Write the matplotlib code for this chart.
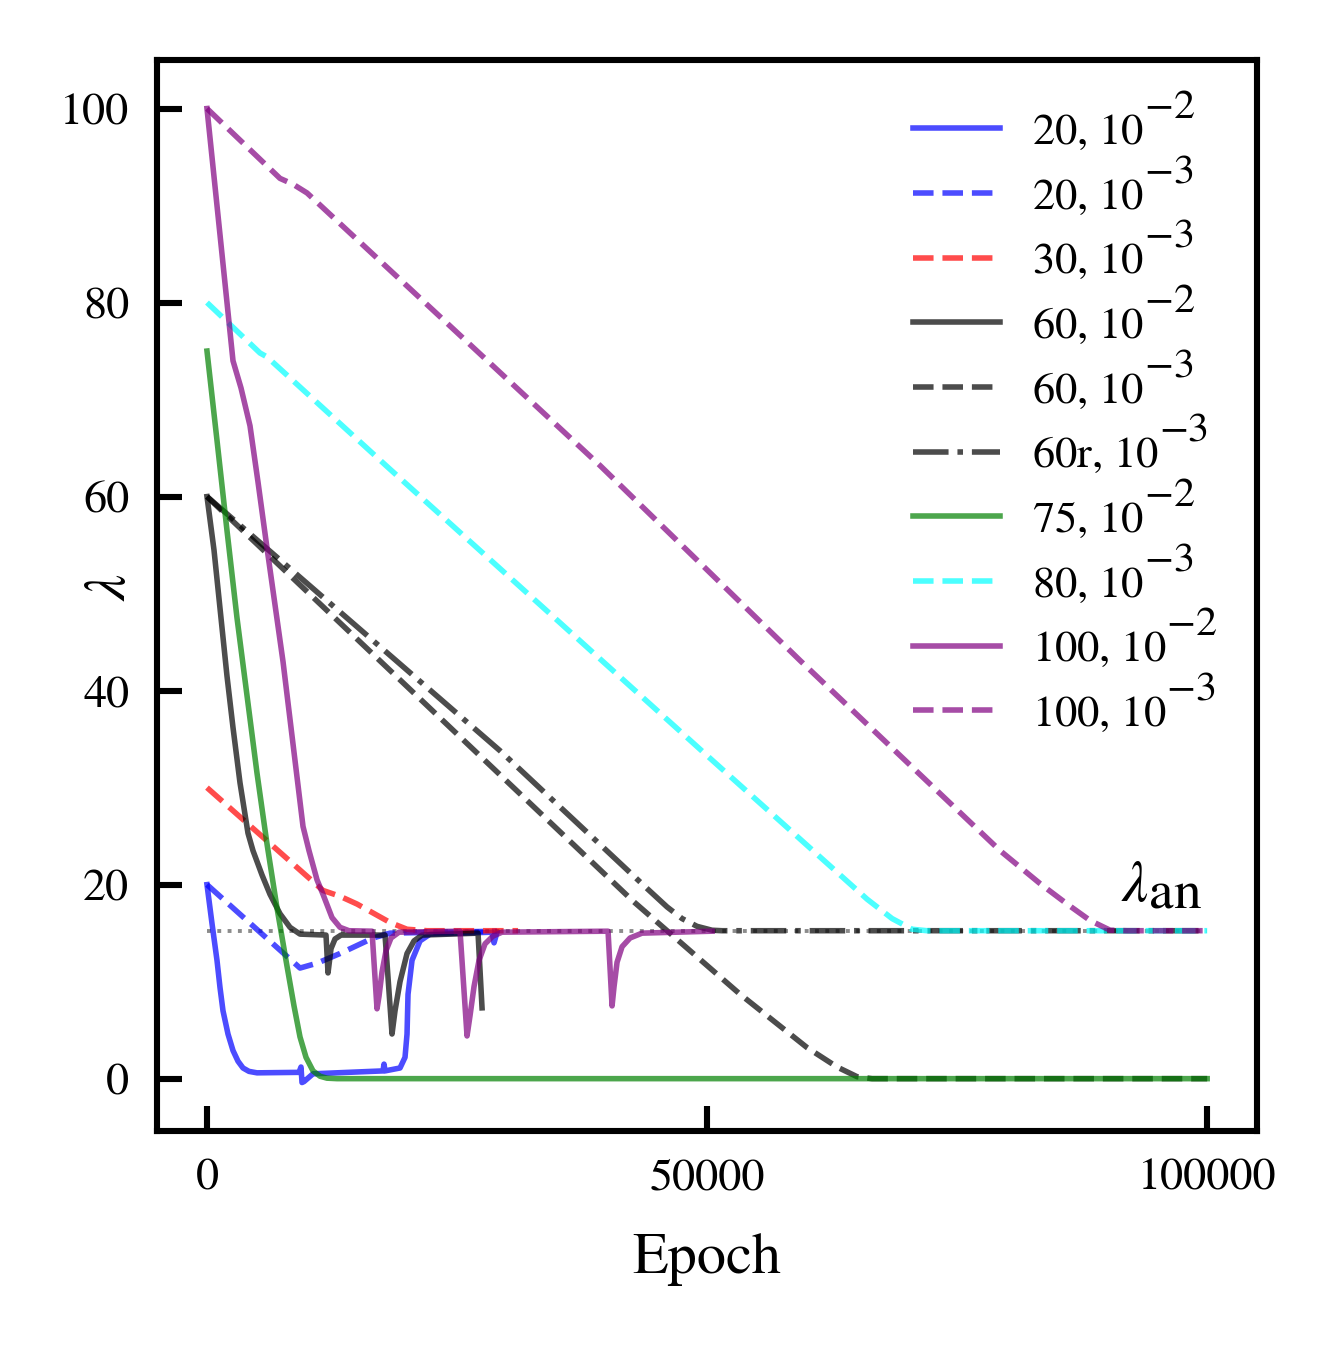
import matplotlib
matplotlib.use("Agg")
import matplotlib.pyplot as plt
import matplotlib._mathtext as mathtext_internals

plt.rcParams['font.family'] = 'serif'
plt.rcParams['font.serif'] = ['STIXGeneral', 'Liberation Serif', 'DejaVu Serif']
plt.rcParams['mathtext.fontset'] = 'stix'
# the original has nearly full-size, high superscripts (small-size LaTeX look)
mathtext_internals.SHRINK_FACTOR = 0.95
mathtext_internals.STIXFontConstants.sup1 = 1.3

# (epoch, lambda)
ep_20_2 = [0, 500, 1000, 1300, 1600, 2100, 2600, 3100, 3600, 4200, 5000, 9200, 9400, 9500, 9700,
           10600, 17600, 17700, 17800, 19300, 19800, 20000, 20100, 20500, 21300, 22300,
           28500, 28700, 29000]
lam_20_2 = [20, 16, 12.2, 9.4, 7, 4.6, 2.9, 1.8, 1.1, 0.75, 0.6, 0.65, 1.2, -0.4, -0.3,
            0.5, 0.8, 1.5, 0.8, 1.1, 2.2, 4.6, 8.7, 12.2, 14.2, 14.9,
            15.1, 14.0, 15.1]

ep_20_3 = [0, 9300, 11000, 13300, 16600, 18300, 29000]
lam_20_3 = [20, 11.4, 11.9, 12.9, 14.5, 15.0, 15.2]

ep_30_3 = [0, 11600, 13300, 15000, 18300, 20000, 22000, 31100]
lam_30_3 = [30, 19.4, 18.8, 18.0, 16.1, 15.4, 15.25, 15.25]

ep_60_2 = [0, 700, 1400, 2000, 2600, 3300, 4100, 4600, 5500, 6300, 7300, 8300, 9300, 11900,
           12100, 12400, 12800, 13400, 17800, 18500, 18800, 19300, 20000, 20700, 21500,
           27100, 27500]
lam_60_2 = [60, 54.5, 47.5, 41.5, 36.2, 30.5, 25.3, 23.5, 21, 19, 17, 15.6, 14.9, 14.8,
            10.9, 13.4, 14.4, 14.8, 14.8, 4.6, 7.0, 10.0, 12.9, 14.2, 14.8,
            15.0, 7.3]

ep_60_3 = [0, 42600, 53300, 60000, 63000, 65000, 66500, 100000]
lam_60_3 = [60, 18.3, 8.7, 3.2, 1.2, 0.2, 0.0, 0.0]

ep_60r_3 = [0, 29300, 44000, 46000, 47500, 49000, 50500, 51500, 100000]
lam_60r_3 = [60, 33.8, 19.6, 17.7, 16.5, 15.7, 15.3, 15.25, 15.25]

ep_75_2 = [0, 1000, 2000, 3000, 4000, 5000, 6000, 7000, 8000, 8700, 9300, 9900, 10600,
           11300, 12000, 13000, 100000]
lam_75_2 = [75, 65.8, 56.5, 47.5, 39.5, 31.5, 24.2, 17.6, 11.6, 7.5, 4.3, 2.2, 0.8,
            0.25, 0.05, 0.0, 0.0]

ep_80_3 = [0, 5300, 6000, 18000, 50000, 66000, 68500, 70500, 72000, 100000]
lam_80_3 = [80, 74.8, 74.4, 63.1, 33.3, 18.5, 16.5, 15.4, 15.25, 15.25]

ep_100_2 = [0, 2600, 3400, 4300, 5100, 6000, 7600, 8600, 9600, 10200, 11000, 11600, 12500,
            13300, 14200, 16500, 17000, 17200, 17500, 17900, 18400, 19200, 25300, 26000,
            26300, 26700, 27200, 27800, 28600, 29500, 40100, 40500, 40700, 41000, 41500,
            42300, 43500, 50500]
lam_100_2 = [100, 74, 71.2, 67.3, 61.5, 54.7, 43, 34.5, 26, 23.5, 20.5, 19, 16.6,
             15.6, 15.25, 15.2, 7.2, 8.5, 11.0, 13.2, 14.5, 15.1, 15.2, 4.4,
             6.5, 9.5, 12.2, 13.9, 14.7, 15.1, 15.2, 7.5, 9.5, 12.0, 13.6,
             14.5, 15.0, 15.2]

ep_100_3 = [0, 7300, 8600, 10000, 39300, 59300, 79300, 83300, 86000, 88300, 90300, 92000, 100000]
lam_100_3 = [100, 92.8, 92.2, 91.3, 63.2, 43.1, 23.5, 20.1, 18, 16.3, 15.3, 15.25, 15.25]

lam_an = 15.25

runs = [
    (ep_20_2, lam_20_2, 'blue', '-', r'20, $10^{-2}$'),
    (ep_20_3, lam_20_3, 'blue', '--', r'20, $10^{-3}$'),
    (ep_30_3, lam_30_3, 'red', '--', r'30, $10^{-3}$'),
    (ep_60_2, lam_60_2, 'black', '-', r'60, $10^{-2}$'),
    (ep_60_3, lam_60_3, 'black', '--', r'60, $10^{-3}$'),
    (ep_60r_3, lam_60r_3, 'black', '-.', r'60r, $10^{-3}$'),
    (ep_75_2, lam_75_2, 'green', '-', r'75, $10^{-2}$'),
    (ep_80_3, lam_80_3, 'cyan', '--', r'80, $10^{-3}$'),
    (ep_100_2, lam_100_2, 'purple', '-', r'100, $10^{-2}$'),
    (ep_100_3, lam_100_3, 'purple', '--', r'100, $10^{-3}$'),
]

fig = plt.figure(figsize=(3.34, 3.365), dpi=400)
ax = fig.add_axes([0.1175, 0.1597, 0.8235, 0.7957])

ax.plot([0, 100000], [lam_an, lam_an], ':', color='gray', lw=0.7, alpha=0.9)
for ep, lam, c, ls, lab in runs:
    ax.plot(ep, lam, ls, color=c, alpha=0.7, lw=1.0, label=lab)

ax.text(99500, 17.0, r'$\lambda_{\rm an}$', ha='right', va='bottom', fontsize=10.5)

ax.set_xlim(-5000, 105000)
ax.set_ylim(-5.4, 105)
ax.set_xticks([0, 50000, 100000])
ax.set_yticks([0, 20, 40, 60, 80, 100])
ax.tick_params(direction='in', length=4.5, width=1.1, labelsize=8.3, pad=5)
for s in ax.spines.values():
    s.set_linewidth(1.1)

ax.set_xlabel('Epoch', fontsize=10.5, labelpad=6)
ax.set_ylabel(r'$\lambda$', fontsize=10.5)
ax.yaxis.set_label_coords(-0.017, 0.508)

ax.legend(loc='upper right', bbox_to_anchor=(1.0, 1.01), frameon=False, fontsize=8,
          handlelength=1.95, handletextpad=0.72, labelspacing=0.025)

fig.savefig('out.png', dpi=400)
